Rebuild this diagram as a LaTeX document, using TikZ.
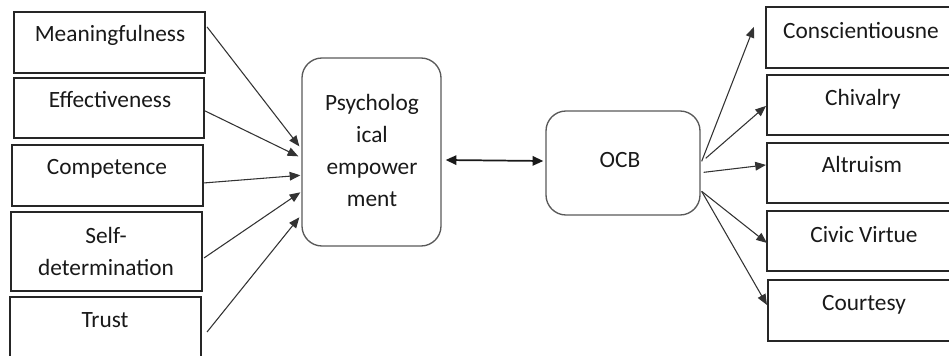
\documentclass[tikz,border=0pt]{standalone}
\usepackage{fontspec}
\setmainfont{Carlito}
\usetikzlibrary{arrows.meta,fit,calc}
\begin{document}
\begin{tikzpicture}[x=0.75pt,y=-0.75pt,
  sqbox/.style={draw=black!85, line width=1.6pt, inner sep=0pt},
  rbox/.style={draw=black!65, line width=1pt, rounded corners=15pt, inner sep=0pt},
  txt/.style={font=\fontsize{17.5}{24}\selectfont, text=black!90, inner sep=0pt},
  arr/.style={draw=black!80, line width=0.8pt, -{Triangle[length=8pt,width=6.5pt]}},
  darr/.style={draw=black!90, line width=1.3pt, {Triangle[length=8pt,width=7pt]}-{Triangle[length=8pt,width=7pt]}}]
\useasboundingbox (0,0) rectangle (949,356);
\clip (0,0) rectangle (949,356);
% left boxes
\node[sqbox, fit={(14,12) (205,73)}] (m) {};
\node[sqbox, fit={(14,78) (204,138)}] (e) {};
\node[sqbox, fit={(12,145) (203,206)}] (c) {};
\node[sqbox, fit={(11,212) (202,291)}] (s) {};
\node[sqbox, fit={(10,297) (201,370)}] (t) {};
\node[txt, anchor=base] (mt) at (110,42) {Meaningfulness};
\node[txt, anchor=base] (et) at (110,108) {Effectiveness};
\node[txt, anchor=base] (ct) at (107,175) {Competence};
\node[txt, anchor=base, align=center] (st) at (106,275) {Self-\\determination};
\node[txt, anchor=base] (tt) at (105,327) {Trust};
% centre boxes
\node[rbox, fit={(302,58) (441,246)}] (p) {};
\node[txt, anchor=base, align=center] (pt) at (372,206) {Psycholog\\ical\\empower\\ment};
\node[rbox, fit={(546,111) (700,215)}] (o) {};
\node[txt, anchor=base] (ot) at (620,167) {OCB};
% right boxes
\node[sqbox, fit={(766,7) (960,68)}] (r1) {};
\node[sqbox, fit={(767,75) (960,135)}] (r2) {};
\node[sqbox, fit={(767,143) (960,203)}] (r3) {};
\node[sqbox, fit={(767,211) (960,271)}] (r4) {};
\node[sqbox, fit={(768,280) (960,341)}] (r5) {};
\node[txt, anchor=base] (r1t) at (861,39) {Conscientiousne};
\node[txt, anchor=base] (r2t) at (863,106) {Chivalry};
\node[txt, anchor=base] (r3t) at (862,173) {Altruism};
\node[txt, anchor=base] (r4t) at (864,242) {Civic Virtue};
\node[txt, anchor=base] (r5t) at (864,310) {Courtesy};
% left arrows
\draw[arr] ($(m.north east)+(1,16)$) -- ($(p.north west)+(-2,89)$);
\draw[arr] ($(e.north east)+(0,34)$) -- ($(p.north west)+(-3,99)$);
\draw[arr] ($(c.north east)+(0,39)$) -- ($(p.north west)+(-1,118)$);
\draw[arr] ($(s.north east)+(1,47)$) -- ($(p.north west)+(-1,135)$);
\draw[arr] ($(t.north east)+(5,36)$) -- ($(p.north west)+(-2,160)$);
% double arrow
\draw[darr] ($(p.east)+(4,8)$) -- ($(o.west)+(-2,-2)$);
% right arrows
\coordinate (r1in) at ($(r1.north west)+(-11,21)$);
\draw[arr] ($(o.north east)+(1,51)$) -- (r1in);
\draw[arr] ($(o.north east)+(5,48)$) -- ($(r2.north west)+(0,32)$);
\draw[arr] ($(o.north east)+(3,62)$) -- ($(r3.north west)+(0,23)$);
\draw[arr] ($(o.north east)+(1,81)$) -- ($(r4.north west)+(1,33)$);
\draw[arr] ($(o.north east)+(1,81)$) -- ($(r5.north west)+(0,26)$);
\end{tikzpicture}
\end{document}
